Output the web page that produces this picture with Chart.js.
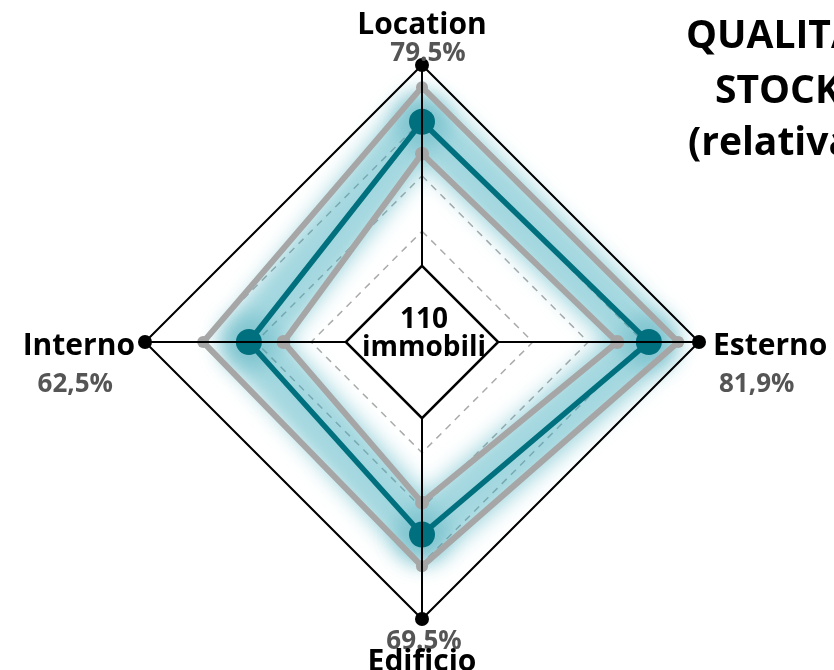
<!DOCTYPE html>
<html>
<head>
<meta charset="utf-8">
<script src="https://cdn.jsdelivr.net/npm/chart.js@4.4.0/dist/chart.umd.min.js"></script>
<style>
  html, body { margin: 0; padding: 0; background: #fff; }
  #wrap { width: 834px; height: 670px; }
</style>
</head>
<body>
<div id="wrap"><canvas id="radarChart" width="834" height="670"></canvas></div>
<script>
const axisLabels = ['Location', 'Esterno', 'Edificio', 'Interno'];
const percentLabels = ['79.5%', '81,9%', '69.5%', '62,5%'];
const qualityValues = [79.5, 81.9, 69.5, 62.5];
const upperValues = [92, 92.5, 81, 79];
const lowerValues = [68, 70.5, 58, 50];
const outerValues = [100, 100, 100, 100];
const titleLines = ['QUALITÀ', 'STOCK', '(relativa)'];
const centerLines = ['110', 'immobili'];
const holeValue = 27.5;

const FONT = '"Open Sans", Lato, sans-serif';

document.addEventListener('DOMContentLoaded', () => {
  const canvas = document.getElementById('radarChart');
  const ctx = canvas.getContext('2d');

  const polyPath = (c, pts) => {
    pts.forEach((p, i) => (i ? c.lineTo(p.x, p.y) : c.moveTo(p.x, p.y)));
    c.closePath();
  };

  // soft teal glow around the main series
  const glowPlugin = {
    id: 'glow',
    beforeDatasetsDraw(chart) {
      const pts = chart.getDatasetMeta(0).data;
      const c = chart.ctx;
      c.save();
      c.filter = 'blur(10px)';
      c.strokeStyle = 'rgba(60, 170, 188, 0.47)';
      c.lineWidth = 60;
      c.lineJoin = 'round';
      c.beginPath();
      polyPath(c, pts);
      c.stroke();
      c.fillStyle = 'rgba(40, 150, 170, 0.28)';
      pts.forEach(p => {
        c.beginPath();
        c.arc(p.x, p.y, 28, 0, Math.PI * 2);
        c.fill();
      });
      c.restore();
    }
  };

  // axis lines on top, white hole in the middle, texts
  const overlayPlugin = {
    id: 'overlay',
    afterDatasetsDraw(chart) {
      const c = chart.ctx;
      const scale = chart.scales.r;
      const outer = chart.getDatasetMeta(3).data;
      c.save();
      c.strokeStyle = '#000';
      c.lineWidth = 2;
      outer.forEach(p => {
        c.beginPath();
        c.moveTo(scale.xCenter, scale.yCenter);
        c.lineTo(p.x, p.y);
        c.stroke();
      });
      const hole = axisLabels.map((_, i) => scale.getPointPositionForValue(i, holeValue));
      c.beginPath();
      polyPath(c, hole);
      c.fillStyle = '#fff';
      c.fill();
      c.lineWidth = 2.5;
      c.stroke();

      c.fillStyle = '#000';
      c.font = 'bold 28px ' + FONT;
      c.textAlign = 'center';
      c.textBaseline = 'alphabetic';
      c.fillText(centerLines[0], scale.xCenter + 2, scale.yCenter - 14);
      c.fillText(centerLines[1], scale.xCenter + 2, scale.yCenter + 14);
      c.restore();
    },
    afterDraw(chart) {
      const c = chart.ctx;
      const p = chart.getDatasetMeta(3).data;
      c.save();
      c.textBaseline = 'alphabetic';
      const lab = (txt, x, y, align) => {
        c.font = 'bold 30px ' + FONT;
        c.fillStyle = '#000';
        c.textAlign = align;
        c.fillText(txt, x, y);
      };
      const pct = (txt, x, y, align) => {
        c.font = 'bold 26px ' + FONT;
        c.fillStyle = '#555555';
        c.textAlign = align;
        c.fillText(txt, x, y);
      };
      // Location (top)
      lab(axisLabels[0], p[0].x, p[0].y - 31, 'center');
      pct(percentLabels[0], p[0].x + 6, p[0].y - 4, 'center');
      // Esterno (right)
      lab(axisLabels[1], p[1].x + 14, p[1].y + 13, 'left');
      pct(percentLabels[1], p[1].x + 20, p[1].y + 50, 'left');
      // Edificio (bottom)
      pct(percentLabels[2], p[2].x + 2, p[2].y + 30, 'center');
      lab(axisLabels[2], p[2].x, p[2].y + 52, 'center');
      // Interno (left)
      lab(axisLabels[3], p[3].x - 10, p[3].y + 13, 'right');
      pct(percentLabels[3], p[3].x - 32, p[3].y + 50, 'right');

      // title, clipped on the right like the original
      c.font = 'bold 39px ' + FONT;
      c.fillStyle = '#000';
      c.textAlign = 'left';
      c.fillText(titleLines[0], 686, 48);
      c.fillText(titleLines[1], 715, 103);
      c.fillText(titleLines[2], 688, 155);
      c.restore();
    }
  };

  try {
    new Chart(ctx, {
      type: 'radar',
      data: {
        labels: axisLabels,
        datasets: [
          {
            label: 'Qualità',
            data: qualityValues,
            borderColor: '#00707f',
            backgroundColor: 'transparent',
            borderWidth: 5.5,
            pointRadius: 13,
            pointBackgroundColor: '#00707f',
            pointBorderWidth: 0,
            fill: false,
            order: 1
          },
          {
            label: 'Max',
            data: upperValues,
            borderColor: '#a6a6a6',
            backgroundColor: 'transparent',
            borderWidth: 6,
            pointRadius: 6,
            pointBackgroundColor: '#a6a6a6',
            pointBorderWidth: 0,
            fill: false,
            order: 2
          },
          {
            label: 'Min',
            data: lowerValues,
            borderColor: '#a6a6a6',
            backgroundColor: 'transparent',
            borderWidth: 6,
            pointRadius: 7,
            pointBackgroundColor: '#a6a6a6',
            pointBorderWidth: 0,
            fill: false,
            order: 3
          },
          {
            label: 'Scala',
            data: outerValues,
            borderColor: '#000',
            backgroundColor: 'transparent',
            borderWidth: 2,
            pointRadius: 7,
            pointBackgroundColor: '#000',
            pointBorderWidth: 0,
            fill: false,
            order: 0
          }
        ]
      },
      options: {
        responsive: false,
        animation: false,
        layout: { padding: { top: 65, bottom: 51, left: 145, right: 135 } },
        plugins: {
          legend: { display: false },
          tooltip: { enabled: false }
        },
        elements: { line: { tension: 0, borderJoinStyle: 'miter' } },
        scales: {
          r: {
            min: 0,
            max: 100,
            ticks: { display: false, stepSize: 20 },
            pointLabels: { display: false },
            angleLines: { display: false },
            grid: { color: '#aaaaaa', lineWidth: 1.5 },
            border: { dash: [7, 6] }
          }
        }
      },
      plugins: [glowPlugin, overlayPlugin]
    });
  } catch (err) {
    console.error('Error rendering chart:', err);
  }
});
</script>
</body>
</html>
